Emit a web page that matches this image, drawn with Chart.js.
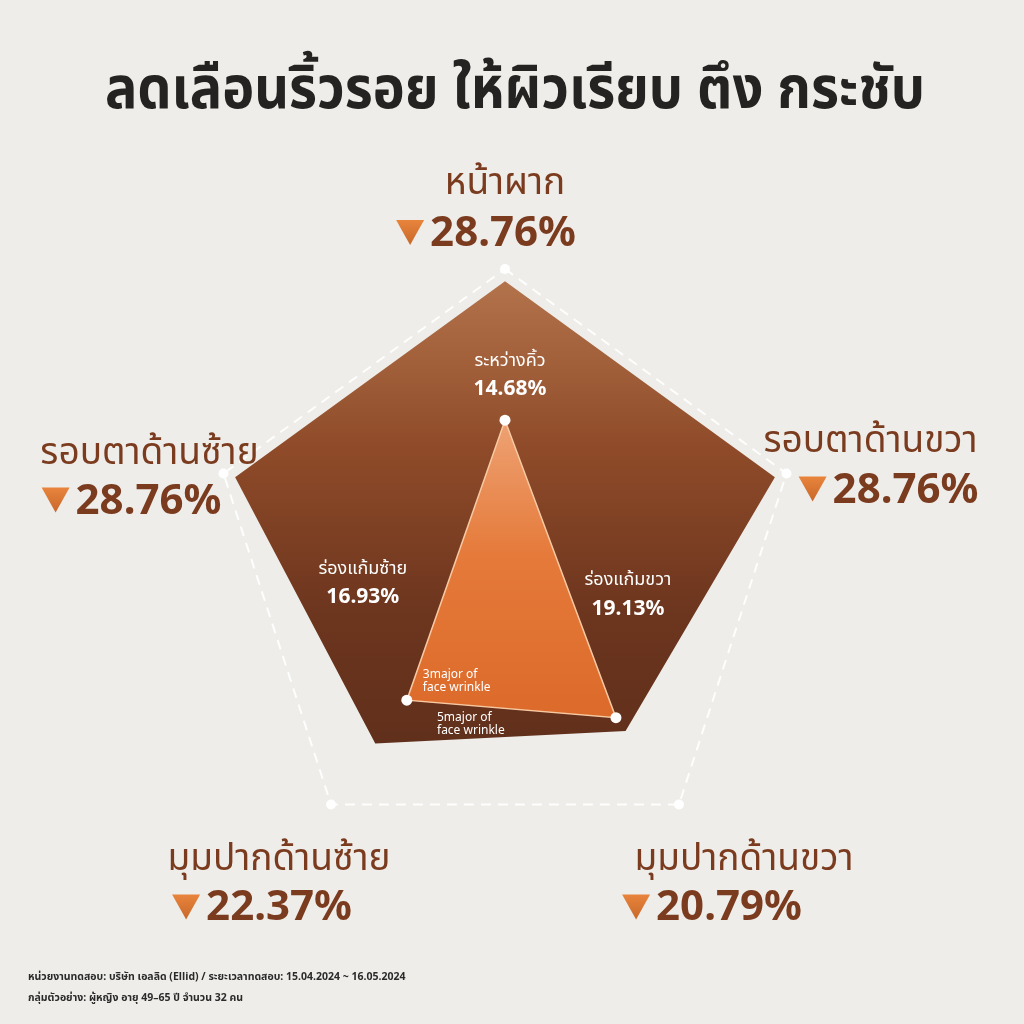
<!DOCTYPE html>
<html>
<head>
<meta charset="utf-8">
<script src="https://cdn.jsdelivr.net/npm/chart.js@4.4.1/dist/chart.umd.min.js"></script>
<style>
html, body { margin: 0; padding: 0; background: #eeede9; }
#wrap { width: 1024px; height: 1024px; position: relative; }
canvas { display: block; }
</style>
</head>
<body>
<div id="wrap"><canvas id="chart" width="1024" height="1024"></canvas></div>
<script>
// ข้อความหัวเรื่อง / ท้ายภาพ
const titleText = 'ลดเลือนริ้วรอย ให้ผิวเรียบ ตึง กระชับ';
const footerLines = [
    'หน่วยงานทดสอบ: บริษัท เอลลิด (Ellid) / ระยะเวลาทดสอบ: 15.04.2024 ~ 16.05.2024',
    'กลุ่มตัวอย่าง: ผู้หญิง อายุ 49–65 ปี จำนวน 32 คน'
];

// 5 จุดหลัก (แกนของเรดาร์ เริ่มจากบนสุด ตามเข็มนาฬิกา)
const axisNames = ['หน้าผาก', 'รอบตาด้านขวา', 'มุมปากด้านขวา', 'มุมปากด้านซ้าย', 'รอบตาด้านซ้าย'];
const fiveValues = [28.76, 28.76, 20.79, 22.37, 28.76];

// 3 จุดรอง (null = ไม่มีจุดบนแกนนั้น)
const innerNames = ['ระหว่างคิ้ว', null, 'ร่องแก้มขวา', 'ร่องแก้มซ้าย', null];
const threeValues = [14.68, null, 19.13, 16.93, null];

// เส้นประรอบนอก = ค่าสูงสุดของสเกล
const scaleMax = 30;
const outerRing = [30, 30, 30, 30, 30];

const fontThai = "'Noto Sans Thai', 'Noto Sans', 'DejaVu Sans', sans-serif";
const brown = '#7a3b1f';

// ตำแหน่งป้ายรอบนอก (ระยะห่างจากมุมเส้นประ)
const outerLayout = [
    { nx: 0, ny: -82, vx: -19, vy: -38 },
    { nx: 84, ny: -29, vx: 102, vy: 14 },
    { nx: 65, ny: 58, vx: 33, vy: 101 },
    { nx: -52, ny: 58, vx: -69, vy: 101 },
    { nx: -74, ny: -17, vx: -92, vy: 25 }
];
// ตำแหน่งป้ายใน (ระยะห่างจากจุดของสามเหลี่ยม)
const innerLayout = [
    { x: 5, y: -58 },
    null,
    { x: 12, y: -136 },
    { x: -44, y: -130 },
    null
];

function drawDownTriangle(ctx, x, yTop, w, h) {
    const g = ctx.createLinearGradient(0, yTop, 0, yTop + h);
    g.addColorStop(0, '#e8843c');
    g.addColorStop(1, '#c8682a');
    ctx.fillStyle = g;
    ctx.beginPath();
    ctx.moveTo(x, yTop);
    ctx.lineTo(x + w, yTop);
    ctx.lineTo(x + w / 2, yTop + h);
    ctx.closePath();
    ctx.fill();
}

function drawValueRow(ctx, cx, cy, text) {
    ctx.font = "bold 42px 'Noto Sans', " + fontThai;
    const tw = ctx.measureText(text).width;
    const triW = 28, gap = 6;
    const start = cx - (triW + gap + tw) / 2;
    drawDownTriangle(ctx, start, cy - 11, triW, 25);
    ctx.fillStyle = brown;
    ctx.textAlign = 'left';
    ctx.textBaseline = 'alphabetic';
    ctx.fillText(text, start + triW + gap, cy + 15);
}

// ป้ายข้อความทั้งหมด วาดด้วยตำแหน่งจากสเกลของกราฟ
const labelPlugin = {
    id: 'labelPlugin',
    afterDatasetsDraw(chart) {
        const ctx = chart.ctx;
        const r = chart.scales.r;
        ctx.save();

        // หัวเรื่อง
        ctx.fillStyle = '#242321';
        ctx.font = 'bold 58px ' + fontThai;
        ctx.textAlign = 'center';
        ctx.textBaseline = 'middle';
        const tw = ctx.measureText(titleText).width;
        const sx = 820 / tw;
        ctx.save();
        ctx.translate(515, 96);
        ctx.scale(sx, 1);
        ctx.fillText(titleText, 0, 0);
        ctx.restore();

        // ป้ายรอบนอก
        axisNames.forEach((name, i) => {
            const p = r.getPointPosition(i, r.getDistanceFromCenterForValue(scaleMax));
            const L = outerLayout[i];
            ctx.fillStyle = brown;
            ctx.font = '37px ' + fontThai;
            ctx.textAlign = 'center';
            ctx.textBaseline = 'middle';
            ctx.fillText(name, p.x + L.nx, p.y + L.ny);
            drawValueRow(ctx, p.x + L.vx, p.y + L.vy, fiveValues[i].toFixed(2) + '%');
        });

        // ป้ายใน
        const meta = chart.getDatasetMeta(0);
        innerNames.forEach((name, i) => {
            if (!name) return;
            const pt = meta.data[i];
            const L = innerLayout[i];
            ctx.fillStyle = '#ffffff';
            ctx.textAlign = 'center';
            ctx.textBaseline = 'middle';
            ctx.font = '18px ' + fontThai;
            ctx.fillText(name, pt.x + L.x, pt.y + L.y);
            ctx.font = "bold 21px 'Noto Sans', " + fontThai;
            ctx.fillText(threeValues[i].toFixed(2) + '%', pt.x + L.x, pt.y + L.y + 27);
        });

        // คำอธิบายรูป
        ctx.fillStyle = '#ffffff';
        ctx.font = "12px 'Noto Sans', sans-serif";
        ctx.textAlign = 'left';
        const bl = meta.data[3];
        ctx.fillText('3major of', bl.x + 16, bl.y - 26);
        ctx.fillText('face wrinkle', bl.x + 16, bl.y - 13);
        const c = { x: r.xCenter, y: r.yCenter };
        ctx.fillText('5major of', c.x - 68, c.y + 153);
        ctx.fillText('face wrinkle', c.x - 68, c.y + 166);

        // ท้ายภาพ
        ctx.fillStyle = '#2a2a2a';
        ctx.font = 'bold 10.5px ' + fontThai;
        ctx.fillText(footerLines[0], 28, 978);
        ctx.fillText(footerLines[1], 28, 999);
        ctx.restore();
    }
};

const ctxEl = document.getElementById('chart');

new Chart(ctxEl, {
    type: 'radar',
    data: {
        labels: axisNames,
        datasets: [{
            label: '3 major',
            data: threeValues,
            spanGaps: true,
            fill: true,
            order: 0,
            borderColor: '#f7c9a2',
            borderWidth: 1.5,
            backgroundColor: (context) => {
                const area = context.chart.chartArea;
                if (!area) return '#e0702e';
                const g = context.chart.ctx.createLinearGradient(0, 420, 0, 720);
                g.addColorStop(0, '#eea274');
                g.addColorStop(0.45, '#e57a3a');
                g.addColorStop(1, '#dc6a2a');
                return g;
            },
            pointRadius: 5.5,
            pointBackgroundColor: '#ffffff',
            pointBorderWidth: 0
        }, {
            label: '5 major',
            data: fiveValues,
            fill: true,
            order: 1,
            borderWidth: 0,
            borderColor: 'rgba(0,0,0,0)',
            backgroundColor: (context) => {
                const area = context.chart.chartArea;
                if (!area) return '#7a3b1f';
                const g = context.chart.ctx.createLinearGradient(0, 280, 0, 760);
                g.addColorStop(0, '#b3734b');
                g.addColorStop(0.35, '#8f4b29');
                g.addColorStop(0.7, '#6c351e');
                g.addColorStop(1, '#5f2f1b');
                return g;
            },
            pointRadius: 0
        }, {
            label: 'max',
            data: outerRing,
            showLine: false,
            fill: false,
            order: 2,
            pointRadius: 5,
            pointBackgroundColor: '#ffffff',
            pointBorderWidth: 0
        }]
    },
    options: {
        responsive: false,
        animation: false,
        devicePixelRatio: 1,
        layout: { padding: { left: 209, right: 223, top: 269, bottom: 163 } },
        elements: { line: { tension: 0 } },
        plugins: {
            legend: { display: false },
            tooltip: { enabled: false },
            title: { display: false }
        },
        scales: {
            r: {
                min: 0,
                max: scaleMax,
                ticks: { display: false, stepSize: 30 },
                pointLabels: { display: false },
                angleLines: { display: false },
                grid: { color: 'rgba(255,255,255,0.9)', lineWidth: 2 },
                border: { dash: [10, 7] }
            }
        }
    },
    plugins: [labelPlugin]
});
</script>
</body>
</html>
